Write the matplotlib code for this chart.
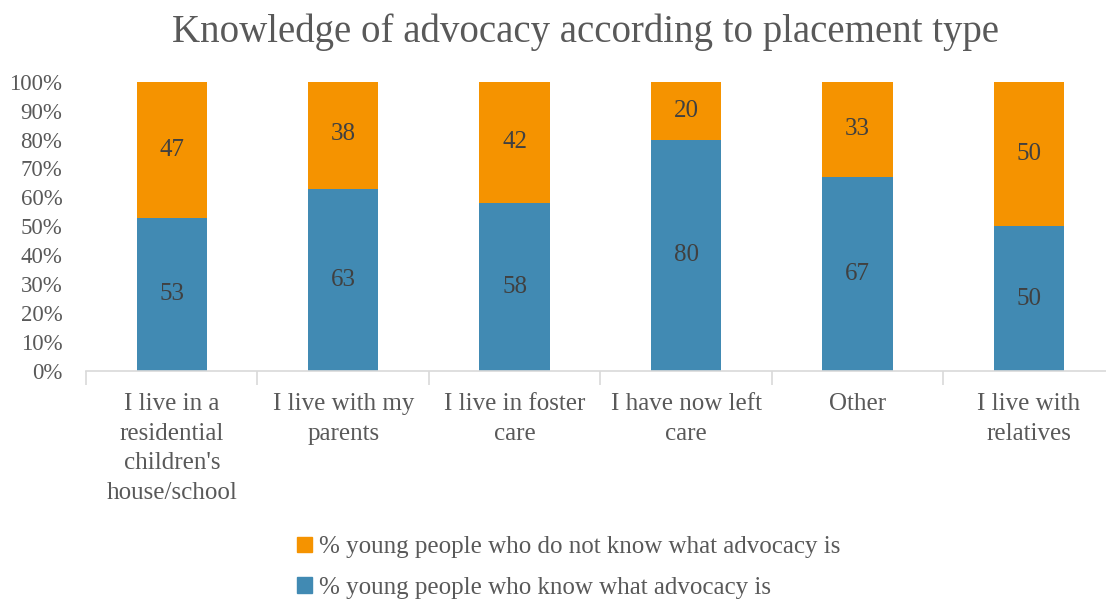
import numpy as np
import matplotlib
matplotlib.use('Agg')
import matplotlib.pyplot as plt
from matplotlib.patches import Patch
from matplotlib.ticker import FuncFormatter

# Placement types and survey percentages
categories = ["I live in a\nresidential\nchildren's\nhouse/school",
              "I live with my\nparents",
              "I live in foster\ncare",
              "I have now left\ncare",
              "Other",
              "I live with\nrelatives"]
know = [53, 63, 58, 80, 67, 50]
dont_know = [47, 38, 42, 20, 33, 50]

blue = '#418AB3'
orange = '#F59300'
text_col = '#595959'

plt.rcParams['font.family'] = ['Liberation Serif', 'DejaVu Serif']

fig = plt.figure(figsize=(11.06, 6.01), dpi=100)
ax = fig.add_axes([0.0778, 0.383, 0.930, 0.481])

x = np.arange(len(categories))
know_frac = np.array(know) / 100
dont_frac = np.array(dont_know) / 100
w = 0.41

ax.bar(x, know_frac, w, color=blue, zorder=2)
ax.bar(x, dont_frac, w, bottom=know_frac, color=orange, zorder=2)

# Values inside each segment
for i in range(len(x)):
    ax.text(x[i], know_frac[i] / 2, str(know[i]), ha='center', va='center',
            fontsize=18, color='#404040')
    ax.text(x[i], know_frac[i] + dont_frac[i] / 2, str(dont_know[i]), ha='center',
            va='center', fontsize=18, color='#404040')

ax.set_xlim(-0.5, len(x) - 0.5)
ax.set_ylim(0, 1)
ax.set_yticks(np.arange(0, 1.01, 0.1))
ax.yaxis.set_major_formatter(FuncFormatter(lambda v, p: f'{v * 100:.0f}%'))
ax.tick_params(axis='y', length=0, labelsize=16.5, labelcolor=text_col, pad=17)

ax.set_xticks(x)
ax.set_xticklabels(categories, linespacing=1.45)
ax.set_xticks(np.arange(-0.5, len(x), 1), minor=True)
ax.tick_params(axis='x', which='major', length=0, labelsize=18, labelcolor=text_col, pad=16)
ax.tick_params(axis='x', which='minor', length=10, color='#D9D9D9', width=1.2)

for s in ['top', 'right', 'left']:
    ax.spines[s].set_visible(False)
ax.spines['bottom'].set_color('#D9D9D9')
ax.spines['bottom'].set_linewidth(1.2)

fig.suptitle('Knowledge of advocacy according to placement type', x=0.529, y=0.978,
             fontsize=28, color=text_col)

handles = [Patch(color=orange, label='% young people who do not know what advocacy is'),
           Patch(color=blue, label='% young people who know what advocacy is')]
fig.legend(handles=handles, loc='upper left', bbox_to_anchor=(0.248, 0.145),
           frameon=False, fontsize=18, labelcolor=text_col, handlelength=0.6,
           handleheight=0.6, handletextpad=0.3, labelspacing=0.75)

fig.savefig('out.png', dpi=100)
